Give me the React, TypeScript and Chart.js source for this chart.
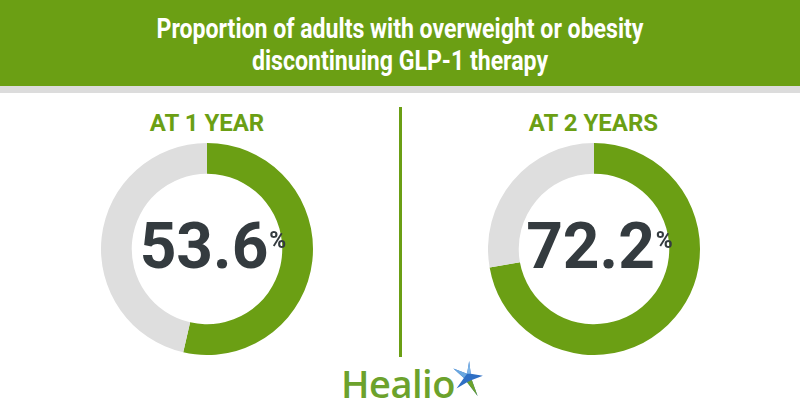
import React, { useEffect, useRef } from "react";
import { Chart, registerables } from "chart.js";

Chart.register(...registerables);

const titleLines = ["Proportion of adults with overweight or obesity", "discontinuing GLP-1 therapy"];
const panelLabels = ["AT 1 YEAR", "AT 2 YEARS"];
const discontinued = [53.6, 72.2];
const segmentLabels = ["Discontinued", "Continued"];

const GREEN = "#6b9f14";
const GREY = "#dedede";
const DARK = "#343b3f";
const TITLE_FONT = "700 27px Roboto";

function titleScale(): number {
  try {
    const c = document.createElement("canvas").getContext("2d");
    if (!c) return 0.82;
    c.font = TITLE_FONT;
    const w = c.measureText(titleLines[0]).width;
    return w > 0 ? 487 / w : 0.82;
  } catch {
    return 0.82;
  }
}

function Donut({ value, cx, cy, label }: { value: number; cx: number; cy: number; label: string }) {
  const ref = useRef<HTMLCanvasElement | null>(null);
  const size = 212;
  useEffect(() => {
    if (!ref.current) return;
    const chart = new Chart(ref.current, {
      type: "doughnut",
      data: {
        labels: segmentLabels,
        datasets: [
          {
            data: [value, +(100 - value).toFixed(1)],
            backgroundColor: [GREEN, GREY],
            borderWidth: 0,
          },
        ],
      },
      options: {
        responsive: false,
        animation: false,
        cutout: "71%",
        layout: { padding: 0 },
        plugins: { legend: { display: false }, tooltip: { enabled: false }, title: { display: false } },
      },
    });
    return () => chart.destroy();
  }, [value]);
  return (
    <>
      <div
        style={{
          position: "absolute",
          left: cx - 100,
          top: 108,
          width: 200,
          textAlign: "center",
          fontFamily: "Roboto, sans-serif",
          fontWeight: 700,
          fontSize: 24,
          color: GREEN,
          lineHeight: "30px",
        }}
      >
        {label}
      </div>
      <canvas
        ref={ref}
        width={size}
        height={size}
        style={{ position: "absolute", left: cx - size / 2, top: cy - size / 2, width: size, height: size }}
      />
      <div
        style={{
          position: "absolute",
          left: cx - 100,
          top: cy - 42,
          width: 200,
          height: 80,
          display: "flex",
          justifyContent: "center",
          alignItems: "flex-start",
          fontFamily: "Roboto, sans-serif",
          fontWeight: 700,
          color: DARK,
          paddingLeft: 12,
          boxSizing: "border-box",
        }}
      >
        <span style={{ fontSize: 64, lineHeight: "80px" }}>{value.toFixed(1)}</span>
        <span style={{ fontSize: 23, lineHeight: "23px", marginTop: 22, marginLeft: 1 }}>%</span>
      </div>
    </>
  );
}

export default function App() {
  useEffect(() => {
    document.body.style.margin = "0";
  }, []);
  const s = titleScale();
  return (
    <div style={{ position: "absolute", left: 0, top: 0, width: 800, height: 420, background: "#fff", overflow: "hidden" }}>
      <div style={{ position: "absolute", left: 0, top: 0, width: 800, height: 86, background: GREEN }} />
      <div style={{ position: "absolute", left: 0, top: 86, width: 800, height: 7, background: "#dcdcdc" }} />
      <div
        style={{
          position: "absolute",
          left: 0,
          top: 13,
          width: 800,
          textAlign: "center",
          color: "#fff",
          font: TITLE_FONT,
          lineHeight: "32px",
          transform: `scaleX(${s})`,
          transformOrigin: "400px 0",
        }}
      >
        {titleLines.map((t) => (
          <div key={t}>{t}</div>
        ))}
      </div>
      <div style={{ position: "absolute", left: 399, top: 107, width: 3, height: 250, background: GREEN }} />
      <Donut value={discontinued[0]} cx={207} cy={248.5} label={panelLabels[0]} />
      <Donut value={discontinued[1]} cx={593.5} cy={248.5} label={panelLabels[1]} />
      <div
        style={{
          position: "absolute",
          left: 341,
          top: 361,
          fontFamily: "'Open Sans', sans-serif",
          fontWeight: 600,
          fontSize: 38,
          color: "#6ca22c",
          lineHeight: "44px",
          letterSpacing: "-0.5px",
        }}
      >
        Healio
      </div>
      <svg style={{ position: "absolute", left: 448, top: 360 }} width="36" height="38" viewBox="0 0 34 36">
        <polygon points="20,1 21.5,13 33,15 22.5,19 28,34 18,21 8,27 15,17 5,8 18,13" fill="#2f6fc4" />
        <polygon points="18,21 28,34 22.5,19" fill="#6ca22c" />
        <polygon points="15,17 5,8 18,13" fill="#6aa8e0" />
        <polygon points="20,1 21.5,13 18,13" fill="#7fb6e8" />
      </svg>
    </div>
  );
}
